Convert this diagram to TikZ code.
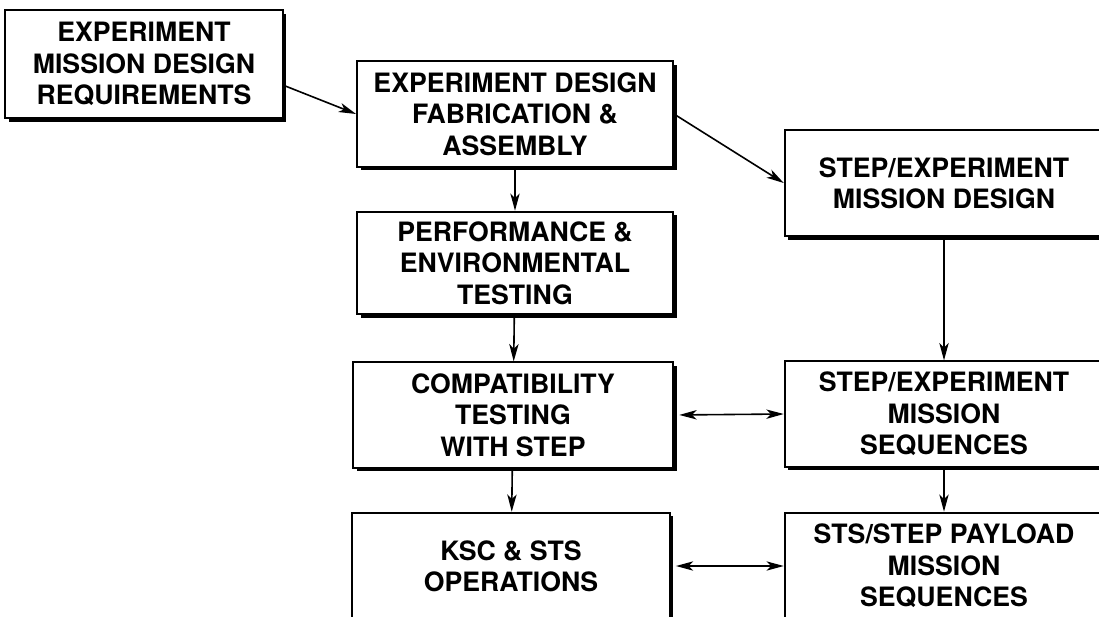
\documentclass[tikz,border=0pt]{standalone}
\usepackage{fontspec}
\setmainfont{TeX Gyre Heros}
\usetikzlibrary{arrows.meta,shadows,positioning,calc}

\begin{document}
\begin{tikzpicture}[
    x=0.75pt, y=-0.75pt,
    box/.style={rectangle, draw, fill=white, line width=1.4pt, align=center,
        font=\fontsize{20}{23.5}\selectfont\bfseries, inner sep=2pt,
        drop shadow={shadow xshift=2.8pt, shadow yshift=-2.8pt, fill=black, opacity=1}},
    lbox/.style={box, minimum width=237pt, minimum height=79pt},
    rbox/.style={box, minimum width=239pt, minimum height=80pt},
    arrow/.style={line width=1.2pt, -{Stealth[length=13pt,width=7pt,inset=3.5pt]}},
    twoway/.style={line width=1.2pt, {Stealth[length=13pt,width=7pt,inset=3.5pt]}-{Stealth[length=13pt,width=7pt,inset=3.5pt]}, shorten <=4pt}
]
\useasboundingbox (0,0) rectangle (1099,617);

% Requirements
\node [box, minimum width=208pt, minimum height=81pt] (req) at (144,64) {EXPERIMENT\\MISSION DESIGN\\REQUIREMENTS};

% Left column
\node [lbox] (fab) at (515,114) {EXPERIMENT DESIGN\\FABRICATION \&\\ASSEMBLY};
\node [lbox, minimum height=77pt] (perf) at (515,263) {PERFORMANCE \&\\ENVIRONMENTAL\\TESTING};
\node [lbox, minimum width=240pt] (compat) at (513,415) {COMPATIBILITY\\TESTING\\WITH STEP};
\node [lbox, minimum width=238pt, minimum height=80pt] (ksc) at (511,566) {KSC \& STS\\OPERATIONS};

% Right column
\node [rbox] (sdesign) at (944,183) {STEP/EXPERIMENT\\MISSION DESIGN};
\node [rbox, minimum height=79pt] (seq) at (944,414) {STEP/EXPERIMENT\\MISSION\\SEQUENCES};
\node [rbox] (payload) at (944,566) {STS/STEP PAYLOAD\\MISSION\\SEQUENCES};

% Arrows
\draw [arrow] ([yshift=-16pt]req.east) -- (fab.west);
\draw [arrow] (fab.east) -- (sdesign.west);
\draw [arrow] (fab) -- (perf);
\draw [arrow] (perf) -- (compat);
\draw [arrow] (compat) -- (ksc);
\draw [arrow] (sdesign) -- (seq);
\draw [arrow] (seq) -- (payload);
\draw [twoway] (compat.east) -- (seq.west);
\draw [twoway] (ksc.east) -- (payload.west);

\end{tikzpicture}
\end{document}
